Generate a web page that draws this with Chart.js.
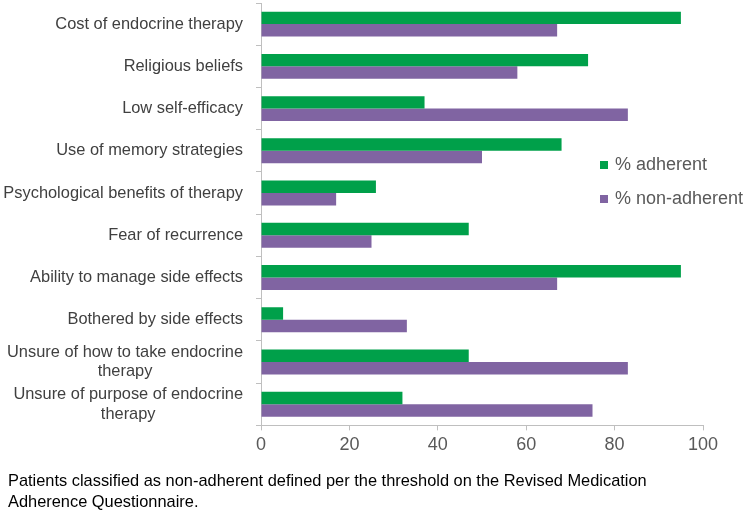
<!DOCTYPE html>
<html>
<head>
<meta charset="utf-8">
<script src="https://cdn.jsdelivr.net/npm/chart.js@4/dist/chart.umd.min.js"></script>
<style>
  html, body { margin: 0; padding: 0; background: #fff; }
  #wrap { width: 750px; height: 513px; }
</style>
</head>
<body>
<div id="wrap"><canvas id="myChart" width="750" height="513"></canvas></div>
<script>
let labels = [
  'Cost of endocrine therapy',
  'Religious beliefs',
  'Low self-efficacy',
  'Use of memory strategies',
  'Psychological benefits of therapy',
  'Fear of recurrence',
  'Ability to manage side effects',
  'Bothered by side effects',
  ['Unsure of how to take endocrine', 'therapy'],
  ['Unsure of purpose of endocrine', 'therapy']
];
let adherent = [95, 74, 37, 68, 26, 47, 95, 5, 47, 32];
let nonAdherent = [67, 58, 83, 50, 17, 25, 67, 33, 83, 75];
let seriesNames = ['% adherent', '% non-adherent'];
let xTicks = [0, 20, 40, 60, 80, 100];
let colorHex = ['#00a04a', '#8064a2'];
let note = [
  'Patients classified as non-adherent defined per the threshold on the Revised Medication',
  'Adherence Questionnaire.'
];

const FONT = '"Liberation Sans", Arial, sans-serif';

// legend sits inside the plot on the right, so draw it by hand
const sideLegend = {
  id: 'sideLegend',
  afterDraw(chart) {
    const c = chart.ctx;
    c.save();
    c.font = '18px ' + FONT;
    c.textBaseline = 'middle';
    chart.data.datasets.forEach((ds, i) => {
      const y = 165 + i * 34;
      c.fillStyle = ds.backgroundColor;
      c.fillRect(600, y - 4, 8, 8);
      c.fillStyle = '#595959';
      c.fillText(ds.label, 615, y);
    });
    c.restore();
  }
};

// category labels: two-line ones are centred on each other, like the original
const catLabels = {
  id: 'catLabels',
  afterDraw(chart) {
    const c = chart.ctx;
    const ys = chart.scales.y;
    const right = ys.right - 18;
    c.save();
    c.font = '16.4px ' + FONT;
    c.fillStyle = '#404040';
    c.textBaseline = 'middle';
    c.textAlign = 'center';
    chart.data.labels.forEach((lab, i) => {
      const lines = Array.isArray(lab) ? lab : [lab];
      const w = Math.max(...lines.map(l => c.measureText(l).width));
      const cx = right - w / 2;
      const lh = 19.5;
      const y0 = ys.getPixelForTick(i) - (lines.length - 1) * lh / 2;
      lines.forEach((l, j) => c.fillText(l, cx, y0 + j * lh));
    });
    c.restore();
  }
};

let ctx = document.getElementById('myChart').getContext('2d');
let myChart = new Chart(ctx, {
  type: 'bar',
  data: {
    labels: labels,
    datasets: [
      { label: seriesNames[0], data: adherent, backgroundColor: colorHex[0] },
      { label: seriesNames[1], data: nonAdherent, backgroundColor: colorHex[1] }
    ]
  },
  options: {
    indexAxis: 'y',
    responsive: false,
    animation: false,
    categoryPercentage: 0.59,
    barPercentage: 1.0,
    layout: { padding: { top: 3, right: 47, left: 8, bottom: 0 } },
    scales: {
      x: {
        min: 0,
        max: 100,
        afterBuildTicks: (scale) => { scale.ticks = xTicks.map(v => ({ value: v })); },
        afterFit: (scale) => { scale.height = 45; scale.paddingLeft = 0; scale.paddingRight = 0; },
        grid: { drawOnChartArea: false, tickLength: 5, color: '#bfbfbf' },
        border: { color: '#bfbfbf' },
        ticks: {
          color: '#595959',
          padding: 4,
          font: { family: FONT, size: 18 }
        }
      },
      y: {
        afterFit: (scale) => { scale.width = 253; scale.paddingTop = 0; scale.paddingBottom = 0; },
        grid: { drawOnChartArea: false, tickLength: 5, color: '#bfbfbf', offset: true },
        border: { color: '#bfbfbf' },
        ticks: { display: false, autoSkip: false }
      }
    },
    plugins: {
      legend: { display: false },
      tooltip: { enabled: false },
      title: {
        display: true,
        text: note,
        position: 'bottom',
        align: 'start',
        color: '#000',
        padding: { top: 0, bottom: 0 },
        font: { family: FONT, size: 16.4, weight: 'normal', lineHeight: 1.3 }
      }
    }
  },
  plugins: [sideLegend, catLabels]
});
</script>
</body>
</html>
